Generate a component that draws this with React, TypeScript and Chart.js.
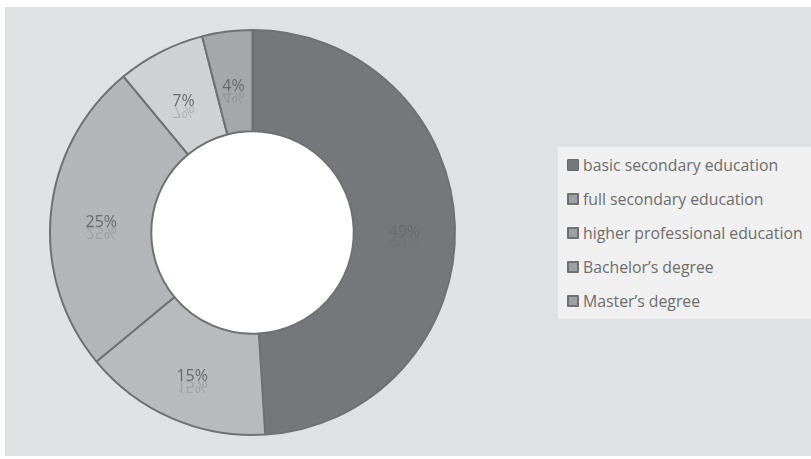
import { useEffect, useRef } from 'react';
import { Chart, registerables } from 'chart.js';

Chart.register(...registerables);

const categories = [
  'basic secondary education',
  'full secondary education',
  'higher professional education',
  'Bachelor\u2019s degree',
  'Master\u2019s degree',
];
const shares = [49, 15, 25, 7, 4];
const sliceColors = ['#76777b', '#b9babd', '#b4b5b8', '#d0d1d3', '#a6a7aa'];
const edgeColor = '#6f7073';
const labelColor = '#6a6a6c';

const whiteHole = {
  id: 'whiteHole',
  beforeDatasetsDraw(chart: any) {
    const meta = chart.getDatasetMeta(0);
    const arc = meta.data[0];
    if (!arc) return;
    const ctx = chart.ctx as CanvasRenderingContext2D;
    ctx.save();
    ctx.beginPath();
    ctx.arc(arc.x, arc.y, arc.innerRadius, 0, Math.PI * 2);
    ctx.fillStyle = '#ffffff';
    ctx.fill();
    ctx.restore();
  },
};

const reflectedLabels = {
  id: 'reflectedLabels',
  afterDatasetsDraw(chart: any) {
    const ctx = chart.ctx as CanvasRenderingContext2D;
    const meta = chart.getDatasetMeta(0);
    const total = shares.reduce((a, b) => a + b, 0);
    ctx.save();
    ctx.font = '16px "Open Sans", sans-serif';
    ctx.textAlign = 'center';
    ctx.textBaseline = 'alphabetic';
    meta.data.forEach((arc: any, i: number) => {
      const pos = arc.tooltipPosition();
      const text = Math.round((shares[i] / total) * 100) + '%';
      const base = pos.y + 9;
      ctx.globalAlpha = 1;
      ctx.fillStyle = labelColor;
      ctx.fillText(text, pos.x, base);
      ctx.save();
      ctx.translate(0, 2 * base);
      ctx.scale(1, -1);
      ctx.globalAlpha = 0.3;
      ctx.fillText(text, pos.x, base);
      ctx.restore();
    });
    ctx.restore();
  },
};

export default function App() {
  const canvasRef = useRef<HTMLCanvasElement | null>(null);

  useEffect(() => {
    if (!canvasRef.current) return;
    const chart = new Chart(canvasRef.current, {
      type: 'doughnut',
      data: {
        labels: categories,
        datasets: [
          {
            data: shares,
            backgroundColor: sliceColors,
            borderColor: edgeColor,
            borderWidth: 2,
          },
        ],
      },
      options: {
        animation: false,
        responsive: false,
        maintainAspectRatio: false,
        cutout: '50%',
        layout: { padding: { top: 22, bottom: 20, left: 44, right: 44 } },
        plugins: {
          legend: { display: false },
          tooltip: { enabled: false },
        },
      },
      plugins: [whiteHole, reflectedLabels],
    });
    return () => chart.destroy();
  }, []);

  return (
    <div style={{ position: 'fixed', left: 0, top: 0, width: 811, height: 459, background: '#ffffff', overflow: 'hidden' }}>
      <div style={{ position: 'absolute', left: 5, top: 7, width: 806, height: 449, background: '#e0e1e2' }}>
        <canvas ref={canvasRef} width={495} height={449} style={{ position: 'absolute', left: 0, top: 0, width: 495, height: 449 }} />
        <div
          style={{
            position: 'absolute',
            left: 553,
            top: 140,
            width: 253,
            height: 172,
            background: '#f0f0f0',
            boxSizing: 'border-box',
            paddingTop: 1,
            fontFamily: '"Open Sans", sans-serif',
            fontSize: 15.8,
            color: '#6d6d6d',
          }}
        >
          {categories.map((c, i) => (
            <div key={c} style={{ height: 34, display: 'flex', alignItems: 'center' }}>
              <span
                style={{
                  display: 'inline-block',
                  flex: '0 0 12px',
                  width: 12,
                  height: 12,
                  marginLeft: 9,
                  marginRight: 4,
                  boxSizing: 'border-box',
                  background: i === 0 ? sliceColors[0] : '#9fa0a3',
                  border: i === 0 ? '1px solid #6a6b6e' : '2px solid ' + edgeColor,
                  borderRadius: 1,
                }}
              />
              <span style={{ whiteSpace: 'nowrap' }}>{c}</span>
            </div>
          ))}
        </div>
      </div>
    </div>
  );
}
